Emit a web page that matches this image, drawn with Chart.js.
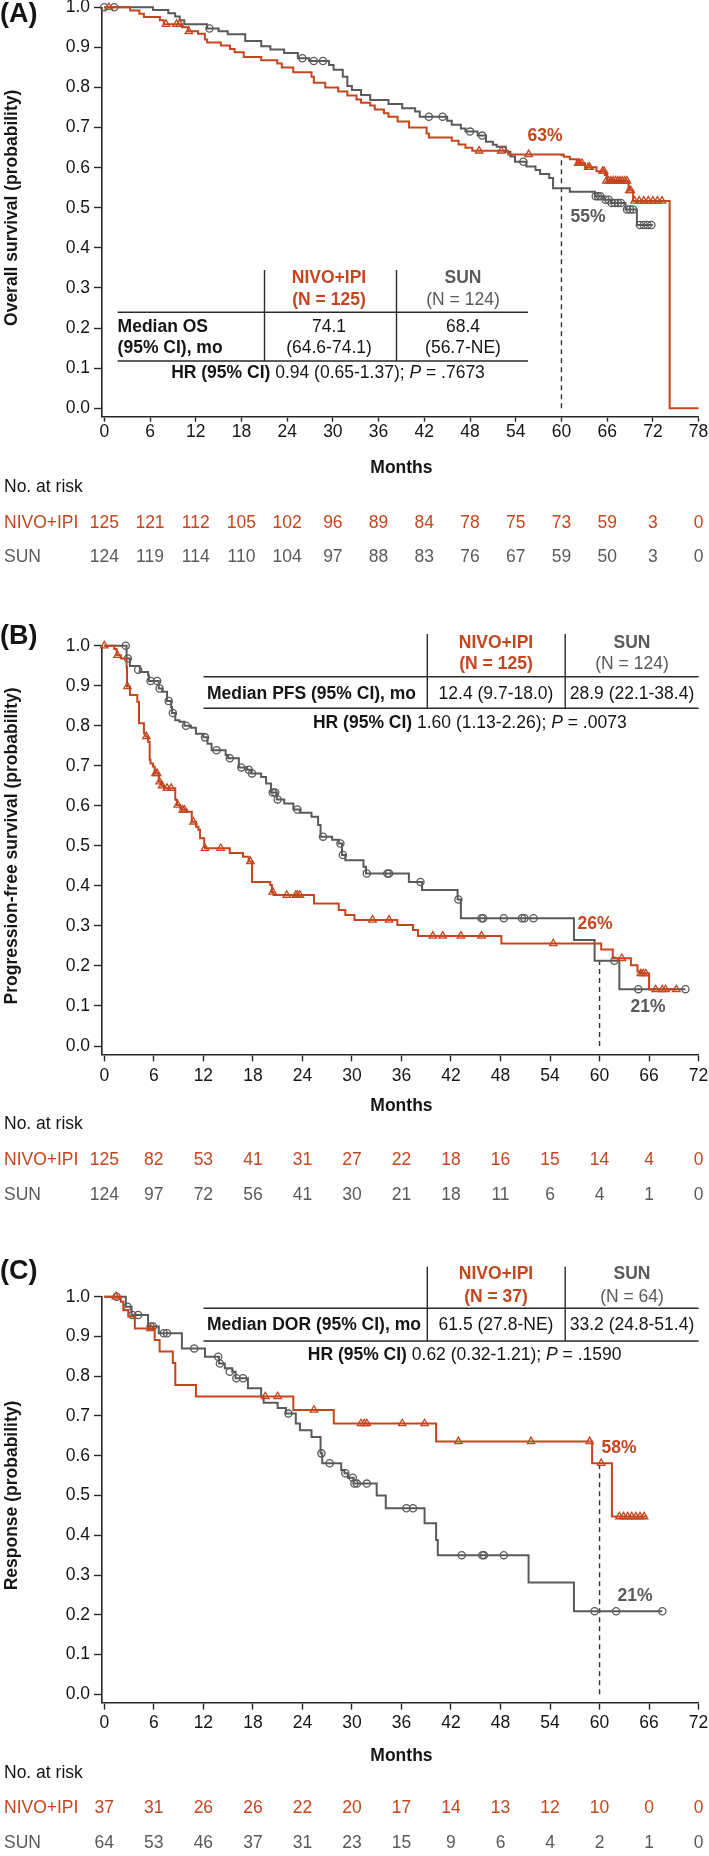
<!DOCTYPE html>
<html><head><meta charset="utf-8">
<script src="https://cdn.jsdelivr.net/npm/chart.js@4.4.1/dist/chart.umd.min.js"></script>
<style>
html,body{margin:0;padding:0;background:#fff;width:709px;height:1856px;overflow:hidden}
canvas{position:absolute;left:0}
</style></head><body>
<canvas id="cA" width="709" height="600" style="top:0"></canvas>
<canvas id="cB" width="709" height="620" style="top:620px"></canvas>
<canvas id="cC" width="709" height="616" style="top:1240px"></canvas>
<script>
// ---------------- DATA ----------------
const Y_TICKS = [0,0.1,0.2,0.3,0.4,0.5,0.6,0.7,0.8,0.9,1.0];
const A_TIMES = [0,6,12,18,24,30,36,42,48,54,60,66,72,78];
const BC_TIMES = [0,6,12,18,24,30,36,42,48,54,60,66,72];

// Panel A: overall survival
const A_NIVO_RISK = [125,121,112,105,102,96,89,84,78,75,73,59,3,0];
const A_SUN_RISK  = [124,119,114,110,104,97,88,83,76,67,59,50,3,0];
const A_NIVO_KM = [[0,1],[3.4,0.992],[4.6,0.984],[5.2,0.976],[7.3,0.968],[7.8,0.958],[10.2,0.95],[11.0,0.94],[12.3,0.934],[13.2,0.92],[13.5,0.912],[15.3,0.905],[16.5,0.896],[17.1,0.888],[18.3,0.876],[20.6,0.868],[22.7,0.86],[23.3,0.85],[24.8,0.838],[27.2,0.827],[27.5,0.812],[29.0,0.8],[30.7,0.79],[31.9,0.78],[33.1,0.77],[33.7,0.762],[34.9,0.755],[35.5,0.745],[36.7,0.736],[37.3,0.727],[38.5,0.715],[40.0,0.70],[42.3,0.685],[42.6,0.675],[45.6,0.667],[46.5,0.658],[47.4,0.65],[48.3,0.642],[53.0,0.633],[60.3,0.627],[61.1,0.621],[62.0,0.611],[63.1,0.601],[64.6,0.591],[65.7,0.582],[66.0,0.567],[68.8,0.543],[69.4,0.517],[74.2,0],[78,0]];
const A_NIVO_CENS = [[0.6,1],[8.1,0.958],[9.5,0.958],[9.9,0.958],[11.1,0.94],[49.2,0.642],[52.1,0.642],[55.7,0.633],[62.2,0.611],[62.4,0.611],[62.7,0.611],[63.5,0.601],[63.7,0.601],[65.4,0.591],[65.6,0.591],[65.9,0.567],[66.2,0.567],[66.5,0.567],[66.8,0.567],[67.1,0.567],[67.4,0.567],[67.7,0.567],[68.0,0.567],[68.3,0.567],[68.6,0.567],[68.9,0.543],[69.1,0.543],[69.6,0.517],[70.2,0.517],[70.8,0.517],[71.4,0.517],[72.0,0.517],[72.6,0.517],[73.2,0.517]];
const A_SUN_KM = [[0,1],[6.4,0.993],[8.4,0.985],[9.3,0.977],[9.9,0.968],[10.5,0.958],[13.5,0.947],[15.0,0.94],[16.2,0.933],[18.5,0.916],[20.6,0.903],[21.8,0.895],[23.6,0.886],[25.4,0.873],[26.9,0.866],[29.5,0.856],[30.1,0.844],[31.3,0.827],[31.9,0.804],[32.5,0.794],[33.7,0.781],[34.9,0.769],[37.3,0.759],[39.1,0.748],[40.8,0.74],[41.4,0.727],[45.0,0.717],[45.6,0.707],[46.8,0.698],[47.4,0.69],[49.0,0.68],[50.1,0.665],[51.0,0.657],[51.5,0.652],[52.7,0.64],[53.3,0.628],[53.9,0.615],[55.4,0.603],[56.6,0.594],[57.2,0.584],[58.4,0.574],[58.9,0.549],[61.1,0.54],[64.4,0.529],[65.6,0.52],[66.5,0.512],[68.4,0.496],[69.9,0.457],[72.0,0.457]];
const A_SUN_CENS = [[0,1],[1.3,1],[13.8,0.947],[26.0,0.873],[27.5,0.866],[28.7,0.866],[42.6,0.727],[44.4,0.727],[48.0,0.69],[49.6,0.68],[55.0,0.615],[64.5,0.529],[64.8,0.529],[65.1,0.529],[65.8,0.52],[66.2,0.52],[66.6,0.512],[67.0,0.512],[67.4,0.512],[67.8,0.512],[68.6,0.496],[69.0,0.496],[69.4,0.496],[70.3,0.457],[70.8,0.457],[71.3,0.457],[71.8,0.457]];

// Panel B: progression-free survival
const B_NIVO_RISK = [125,82,53,41,31,27,22,18,16,15,14,4,0];
const B_SUN_RISK  = [124,97,72,56,41,30,21,18,11,6,4,1,0];
const B_NIVO_KM = [[0,1],[1.2,0.992],[1.5,0.976],[2.0,0.968],[2.7,0.946],[2.75,0.898],[3.1,0.877],[4.0,0.86],[4.2,0.806],[4.8,0.781],[5.0,0.773],[5.3,0.76],[5.5,0.715],[5.6,0.706],[5.9,0.698],[6.1,0.681],[6.6,0.66],[6.9,0.65],[7.2,0.644],[8.6,0.615],[8.8,0.602],[9.2,0.594],[9.4,0.59],[10.0,0.585],[10.6,0.56],[11.1,0.548],[11.4,0.54],[11.6,0.519],[12.1,0.498],[12.2,0.494],[15.2,0.482],[16.8,0.473],[17.5,0.461],[17.9,0.41],[20.1,0.402],[20.3,0.385],[20.5,0.377],[25.4,0.356],[28.4,0.34],[29.2,0.327],[30.3,0.315],[35.5,0.302],[37.4,0.29],[38.0,0.275],[48.1,0.256],[60.2,0.241],[61.6,0.219],[63.8,0.202],[64.6,0.186],[64.9,0.181],[66.0,0.141],[69.3,0.141]];
const B_NIVO_CENS = [[0,1],[1.6,0.976],[2.8,0.898],[5.1,0.773],[6.2,0.681],[6.4,0.681],[6.7,0.66],[7.0,0.65],[7.6,0.644],[8.1,0.644],[8.9,0.602],[9.5,0.59],[9.7,0.59],[10.8,0.56],[12.2,0.494],[14.1,0.494],[17.7,0.461],[20.4,0.385],[22.1,0.377],[23.2,0.377],[23.4,0.377],[23.7,0.377],[32.5,0.315],[34.5,0.315],[39.8,0.275],[41.0,0.275],[43.2,0.275],[45.7,0.275],[54.4,0.256],[62.7,0.219],[65.0,0.181],[65.3,0.181],[65.6,0.181],[66.8,0.141],[67.6,0.141],[68.0,0.141],[69.3,0.141]];
const B_SUN_KM = [[0,1],[2.7,0.968],[3.1,0.949],[4.3,0.934],[5.3,0.926],[5.4,0.912],[6.6,0.893],[7.0,0.885],[7.6,0.862],[8.1,0.847],[8.2,0.832],[8.6,0.814],[9.1,0.81],[9.7,0.8],[10.5,0.795],[11.1,0.78],[12.0,0.771],[12.5,0.755],[13.0,0.739],[14.7,0.727],[15.0,0.719],[16.3,0.696],[17.3,0.69],[17.8,0.681],[19.0,0.672],[19.6,0.656],[20.2,0.633],[20.9,0.616],[21.8,0.606],[22.9,0.591],[23.7,0.583],[25.1,0.573],[25.9,0.552],[26.2,0.523],[27.6,0.515],[28.4,0.506],[28.8,0.477],[29.2,0.464],[31.4,0.448],[31.7,0.431],[36.9,0.41],[38.5,0.39],[42.8,0.366],[43.2,0.319],[56.9,0.265],[59.4,0.213],[62.4,0.142],[70.4,0.142]];
const B_SUN_CENS = [[2.6,1],[2.85,0.968],[4.1,0.94],[5.6,0.912],[6.4,0.912],[6.7,0.893],[7.8,0.862],[8.3,0.832],[9.9,0.8],[12.2,0.771],[13.6,0.739],[15.2,0.719],[16.6,0.696],[17.5,0.69],[17.9,0.681],[20.4,0.633],[20.7,0.633],[21.0,0.616],[23.4,0.591],[26.5,0.523],[28.6,0.506],[28.9,0.477],[31.8,0.431],[34.3,0.431],[34.5,0.431],[38.3,0.41],[42.9,0.366],[45.7,0.319],[45.9,0.319],[48.4,0.319],[50.6,0.319],[50.9,0.319],[52.0,0.319],[61.8,0.213],[64.7,0.142],[70.4,0.142]];

// Panel C: duration of response
const C_NIVO_RISK = [37,31,26,26,22,20,17,14,13,12,10,0,0];
const C_SUN_RISK  = [64,53,46,37,31,23,15,9,6,4,2,1,0];
const C_NIVO_KM = [[0,1],[2.0,0.987],[2.3,0.966],[2.9,0.95],[3.7,0.92],[6.1,0.891],[6.7,0.862],[8.3,0.833],[8.6,0.778],[11.1,0.749],[22.9,0.715],[27.8,0.681],[40.2,0.636],[59.1,0.581],[61.5,0.447],[65.7,0.447]];
const C_NIVO_CENS = [[1.4,1],[5.6,0.92],[19.5,0.749],[21.0,0.749],[25.4,0.715],[31.1,0.681],[31.5,0.681],[31.8,0.681],[36.1,0.681],[38.8,0.681],[42.9,0.636],[51.7,0.636],[58.8,0.636],[60.2,0.581],[62.4,0.447],[62.9,0.447],[63.4,0.447],[63.9,0.447],[64.4,0.447],[64.9,0.447],[65.4,0.447]];
const C_SUN_KM = [[0,1],[2.6,0.975],[3.3,0.954],[5.3,0.925],[6.6,0.908],[9.4,0.87],[12.2,0.849],[13.9,0.832],[14.6,0.82],[15.5,0.811],[15.9,0.795],[17.4,0.77],[19.0,0.749],[19.3,0.733],[21.0,0.72],[22.0,0.706],[23.2,0.681],[23.7,0.664],[25.1,0.647],[26.2,0.606],[26.4,0.581],[28.7,0.564],[29.1,0.556],[29.5,0.545],[30.2,0.53],[33.0,0.5],[34.1,0.468],[38.8,0.43],[40.2,0.388],[40.4,0.35],[51.4,0.281],[56.9,0.209],[67.6,0.209]];
const C_SUN_CENS = [[1.5,1],[2.8,0.975],[3.4,0.954],[4.1,0.954],[5.6,0.925],[5.9,0.925],[7.2,0.908],[7.6,0.908],[10.9,0.87],[13.8,0.849],[14.0,0.832],[15.2,0.811],[16.0,0.795],[16.8,0.795],[22.3,0.706],[26.3,0.606],[27.3,0.581],[29.2,0.556],[30.1,0.545],[30.3,0.53],[30.6,0.53],[31.8,0.53],[36.6,0.468],[37.4,0.468],[43.3,0.35],[45.8,0.35],[46.0,0.35],[48.4,0.35],[59.4,0.209],[62.0,0.209],[67.6,0.209]];

// ---------------- STYLE ----------------
const FONT = "'Liberation Sans', Arial, Helvetica, sans-serif";
const RED = '#C5461E', GRAY = '#5A5A5A', INK = '#151515', AXIS = '#262626';
const FS = 17.5;

function pts(a){ return a.map(p => ({x:p[0], y:p[1]})); }

function txt(c, s, x, y, font, color, align){
  c.font = font; c.fillStyle = color; c.textAlign = align || 'left'; c.textBaseline = 'middle';
  c.fillText(s, x, y);
}
function richCentered(c, parts, cx, y){
  let w = 0;
  parts.forEach(p => { c.font = p[1] + ' ' + FS + 'px ' + FONT; w += c.measureText(p[0]).width; });
  let x = cx - w/2;
  parts.forEach(p => { c.font = p[1] + ' ' + FS + 'px ' + FONT; c.fillStyle = INK; c.textAlign='left'; c.textBaseline='middle'; c.fillText(p[0], x, y); x += c.measureText(p[0]).width; });
}
function line(c, x1, y1, x2, y2, w, col){
  c.beginPath(); c.moveTo(x1,y1); c.lineTo(x2,y2); c.lineWidth = w; c.strokeStyle = col; c.setLineDash([]); c.stroke();
}

function decor(chart, P){
  const c = chart.ctx, xs = chart.scales.x;
  const N = FS + 'px ' + FONT, B = 'bold ' + FS + 'px ' + FONT;
  c.save();
  txt(c, P.letter, 0, P.letterY, 'bold 27px ' + FONT, INK, 'left');
  c.save(); c.translate(12, P.yTitleY); c.rotate(-Math.PI/2);
  txt(c, P.yTitle, 0, 0, B, INK, 'center'); c.restore();
  const mx = (xs.getPixelForValue(0) + xs.getPixelForValue(P.xMax))/2;
  txt(c, 'Months', mx, P.monthsY, B, INK, 'center');
  txt(c, 'No. at risk', 4, P.riskY, N, INK, 'left');
  txt(c, 'NIVO+IPI', 4, P.nivoY, N, RED, 'left');
  txt(c, 'SUN', 4, P.sunY, N, GRAY, 'left');
  P.times.forEach((t,i) => {
    const x = xs.getPixelForValue(t);
    txt(c, String(P.nivoRisk[i]), x, P.nivoY, N, RED, 'center');
    txt(c, String(P.sunRisk[i]), x, P.sunY, N, GRAY, 'center');
  });
  // table
  const T = P.table;
  T.v.forEach(x => line(c, x, T.vTop, x, T.h[1], 1.4, '#2a2a2a'));
  T.h.forEach(y => line(c, T.hL, y, T.hR, y, 1.6, '#2a2a2a'));
  txt(c, 'NIVO+IPI', T.c1, T.hy[0], B, RED, 'center');
  txt(c, T.n1, T.c1, T.hy[1], B, RED, 'center');
  txt(c, 'SUN', T.c2, T.hy[0], B, GRAY, 'center');
  txt(c, T.n2, T.c2, T.hy[1], N, GRAY, 'center');
  T.rows.forEach(r => {
    txt(c, r[0], T.labelX, r[3], B, INK, 'left');
    txt(c, r[1], T.c1, r[3], N, INK, 'center');
    txt(c, r[2], T.c2, r[3], N, INK, 'center');
  });
  richCentered(c, [['HR (95% CI)','bold'],[' ' + T.hr + '; ','normal'],['P','italic'],[' = ' + T.p,'normal']], T.hrX, T.hrY);
  // landmark labels
  P.pct.forEach(q => txt(c, q[0], q[1], q[2], B, q[3], 'center'));
  c.restore();
}

function build(id, P){
  const sets = [
    {data: pts(P.nivoCens), showLine:false, pointStyle:'triangle', pointRadius:4.3, pointBorderColor:RED, pointBackgroundColor:'rgba(255,255,255,0)', pointBorderWidth:1.3, clip:false},
    {data: pts(P.nivoKM), stepped:'before', borderColor:RED, borderWidth:2, pointRadius:0, fill:false, clip:false},
    {data: pts(P.sunCens), showLine:false, pointStyle:'circle', pointRadius:3.6, pointBorderColor:GRAY, pointBackgroundColor:'rgba(255,255,255,0)', pointBorderWidth:1.3, clip:false},
    {data: pts(P.sunKM), stepped:'before', borderColor:GRAY, borderWidth:2, pointRadius:0, fill:false, clip:false},
    {data: [{x:60,y:0},{x:60,y:P.dashTop}], borderColor:'#333', borderWidth:1.4, borderDash:[5,4], pointRadius:0, fill:false, clip:false}
  ];
  return new Chart(document.getElementById(id), {
    type:'line',
    data:{datasets:sets},
    options:{
      responsive:false, animation:false, events:[],
      layout:{padding:{top:P.padTop, left:0, right:P.padRight, bottom:P.padBottom}},
      plugins:{legend:{display:false}, tooltip:{enabled:false}},
      scales:{
        x:{type:'linear', min:P.xMin, max:P.xMax,
          afterBuildTicks: s => { s.ticks = P.times.map(v => ({value:v})); },
          afterFit: s => { s.height = 40; s.paddingLeft = 0; s.paddingRight = 0; },
          ticks:{autoSkip:false, maxRotation:0, minRotation:0, padding:P.xPad, color:INK, font:{family:FONT, size:FS}, callback: v => String(v)},
          grid:{drawOnChartArea:false, drawTicks:true, tickLength:P.xTick, tickColor:AXIS, tickWidth:1.4},
          border:{display:true, color:AXIS, width:1.6}},
        y:{type:'linear', min:P.yMin, max:1,
          afterBuildTicks: s => { s.ticks = Y_TICKS.map(v => ({value:v})); },
          afterFit: s => { s.width = 102; s.paddingTop = 0; s.paddingBottom = 0; },
          ticks:{autoSkip:false, padding:4, color:INK, font:{family:FONT, size:FS}, callback: v => v.toFixed(1)},
          grid:{drawOnChartArea:false, drawTicks:true, tickLength:8, tickColor:AXIS, tickWidth:1.4},
          border:{display:true, color:AXIS, width:1.6}}
      }
    },
    plugins:[{id:'decor', afterDraw: ch => decor(ch, P)}]
  });
}

build('cA', {
  letter:'(A)', letterY:15, yTitle:'Overall survival (probability)', yTitleY:207.8,
  padTop:7.3, padRight:10.4, padBottom:143.3, xMin:-0.3, xMax:78, yMin:-0.021, xPad:0, xTick:5,
  times:A_TIMES, nivoRisk:A_NIVO_RISK, sunRisk:A_SUN_RISK,
  nivoKM:A_NIVO_KM, nivoCens:A_NIVO_CENS, sunKM:A_SUN_KM, sunCens:A_SUN_CENS, dashTop:0.633,
  monthsY:468.3, riskY:486.7, nivoY:522.7, sunY:556.7,
  table:{v:[264.5,396.5], vTop:270, h:[312.3,361], hL:117.6, hR:528, c1:329, c2:463, hy:[278.3,300], n1:'(N = 125)', n2:'(N = 124)',
    labelX:117.6, rows:[['Median OS','74.1','68.4',326.7],['(95% CI), mo','(64.6-74.1)','(56.7-NE)',348.3]],
    hr:'0.94 (0.65-1.37)', p:'.7673', hrX:328, hrY:372.7},
  pct:[['63%',545,136,RED],['55%',588,217.3,GRAY]]
});
build('cB', {
  letter:'(B)', letterY:16.7, yTitle:'Progression-free survival (probability)', yTitleY:225.9,
  padTop:25.7, padRight:10.4, padBottom:145.7, xMin:-0.28, xMax:72, yMin:-0.0207, xPad:4, xTick:7,
  times:BC_TIMES, nivoRisk:B_NIVO_RISK, sunRisk:B_SUN_RISK,
  nivoKM:B_NIVO_KM, nivoCens:B_NIVO_CENS, sunKM:B_SUN_KM, sunCens:B_SUN_CENS, dashTop:0.213,
  monthsY:485.7, riskY:504, nivoY:540, sunY:575,
  table:{v:[427.3,565.2], vTop:14, h:[56.7,88.3], hL:203.5, hR:698.6, c1:496, c2:632, hy:[23.3,44], n1:'(N = 125)', n2:'(N = 124)',
    labelX:207, rows:[['Median PFS (95% CI), mo','12.4 (9.7-18.0)','28.9 (22.1-38.4)',74.3]],
    hr:'1.60 (1.13-2.26)', p:'.0073', hrX:469.8, hrY:103.3},
  pct:[['26%',595,304.3,RED],['21%',648,387.3,GRAY]]
});
build('cC', {
  letter:'(C)', letterY:31.7, yTitle:'Response (probability)', yTitleY:255.5,
  padTop:56.7, padRight:10.4, padBottom:113.3, xMin:-0.28, xMax:72, yMin:-0.021, xPad:3, xTick:7,
  times:BC_TIMES, nivoRisk:C_NIVO_RISK, sunRisk:C_SUN_RISK,
  nivoKM:C_NIVO_KM, nivoCens:C_NIVO_CENS, sunKM:C_SUN_KM, sunCens:C_SUN_CENS, dashTop:0.575,
  monthsY:515.7, riskY:533.3, nivoY:568.3, sunY:603.3,
  table:{v:[427.3,565.2], vTop:26.7, h:[68.3,101], hL:203.5, hR:698.6, c1:496, c2:632, hy:[34,56.7], n1:'(N = 37)', n2:'(N = 64)',
    labelX:207, rows:[['Median DOR (95% CI), mo','61.5 (27.8-NE)','33.2 (24.8-51.4)',85]],
    hr:'0.62 (0.32-1.21)', p:'.1590', hrX:464.6, hrY:115},
  pct:[['58%',619,207.7,RED],['21%',635,355.7,GRAY]]
});
</script>
</body></html>
